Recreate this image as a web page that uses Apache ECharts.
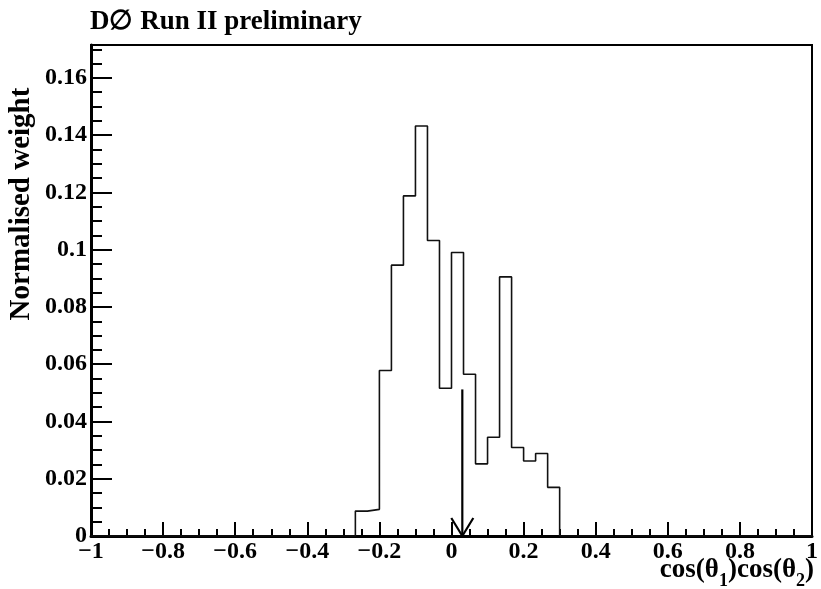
<!DOCTYPE html>
<html>
<head>
<meta charset="utf-8">
<script src="https://cdn.jsdelivr.net/npm/echarts@6/dist/echarts.min.js"></script>
<style>
  html, body { margin: 0; padding: 0; background: #fff; }
  #chart { width: 821px; height: 589px; }
</style>
</head>
<body>
<div id="chart"></div>
<script>
// ---- data ----
const titleText = 'D\u2205 Run II preliminary';
const yAxisTitle = 'Normalised weight';
// lower edges of the non-empty bins (bin width 1/30)
const binLow = [-0.26667, -0.23333, -0.2, -0.16667, -0.13333, -0.1, -0.06667, -0.03333,
                0, 0.03333, 0.06667, 0.1, 0.13333, 0.16667, 0.2, 0.23333, 0.26667];
const binHighEnd = 0.3;
const binValue = [0.0087, 0.0093, 0.0578, 0.0946, 0.1188, 0.1432, 0.1032, 0.0516,
                  0.0990, 0.0565, 0.0252, 0.0345, 0.0905, 0.0309, 0.0262, 0.0288, 0.0170];
const xRange = [-1, 1];
const yRange = [0, 0.1715];
const xMajor = 0.2;
const yMajor = 0.02;
const yMinor = 0.005;
// cut arrow: [x, top y, bottom y]
const arrowX = 0.03;
const arrowTop = 0.0512;
const arrowBottom = 0;

const FONT = '"Liberation Serif", "DejaVu Serif", serif';

// outline points of the histogram (step drawn by the library)
const histPoints = [[xRange[0], 0]];
for (let i = 0; i < binLow.length; i++) histPoints.push([binLow[i], binValue[i]]);
histPoints.push([binHighEnd, 0]);
histPoints.push([xRange[1], 0]);

function fmtNum(v) {
  const s = String(Number(v.toFixed(4)));
  return s.replace('-', '\u2212');
}

const chart = echarts.init(document.getElementById('chart'), null, { renderer: 'canvas' });
const option = {
  animation: false,
  backgroundColor: '#fff',
  grid: { left: 91, right: 5, top: 45, bottom: 53, show: true, borderColor: '#000', borderWidth: 2, backgroundColor: 'transparent' },
  xAxis: {
    type: 'value', min: xRange[0], max: xRange[1], interval: xMajor,
    axisLine: { onZero: false, lineStyle: { color: '#000', width: 3 } },
    axisTick: { inside: true, length: 14, lineStyle: { color: '#000', width: 2 } },
    minorTick: { show: true, splitNumber: 4, length: 7, lineStyle: { color: '#000', width: 2 } },
    splitLine: { show: false },
    axisLabel: { color: '#000', fontFamily: FONT, fontWeight: 'bold', fontSize: 24, margin: 4, formatter: fmtNum }
  },
  yAxis: [
    {
      type: 'value', min: yRange[0], max: yRange[1], interval: yMajor, position: 'left',
      axisLine: { onZero: false, lineStyle: { color: '#000', width: 3 } },
      axisTick: { inside: true, length: 21, lineStyle: { color: '#000', width: 2 } },
      splitLine: { show: false },
      axisLabel: {
        color: '#000', fontFamily: FONT, fontWeight: 'bold', fontSize: 24, margin: 4,
        formatter: function (v) {
          const k = v / yMajor;
          return Math.abs(k - Math.round(k)) < 1e-6 ? fmtNum(v) : '';
        }
      }
    },
    {
      type: 'value', min: yRange[0], max: yRange[1], interval: yMinor, position: 'left', offset: 0,
      axisLine: { show: false, onZero: false },
      axisTick: { inside: true, length: 11, lineStyle: { color: '#000', width: 2 } },
      splitLine: { show: false },
      axisLabel: { show: false }
    }
  ],
  series: [
    {
      type: 'line', step: 'end', data: histPoints, symbol: 'none',
      xAxisIndex: 0, yAxisIndex: 0,
      lineStyle: { color: '#111', width: 1.6 }, z: 3
    },
    {
      type: 'custom', xAxisIndex: 0, yAxisIndex: 0, z: 4,
      data: [[arrowX, arrowTop, arrowBottom]],
      encode: { x: 0, y: [1, 2] },
      renderItem: function (params, api) {
        const p1 = api.coord([api.value(0), api.value(1)]);
        const p2 = api.coord([api.value(0), api.value(2)]);
        const st = { stroke: '#000', lineWidth: 2.2, fill: null };
        return {
          type: 'group',
          children: [
            { type: 'line', shape: { x1: p1[0], y1: p1[1], x2: p2[0], y2: p2[1] }, style: st },
            { type: 'polyline', shape: { points: [[p2[0] - 11, p2[1] - 18], [p2[0], p2[1]], [p2[0] + 11, p2[1] - 18]] }, style: st }
          ]
        };
      }
    }
  ],
  graphic: [
    {
      type: 'text', left: 90, top: 9,
      style: { text: titleText, font: 'bold 27px ' + FONT, fill: '#000' }
    },
    {
      type: 'text', x: 22, y: 204, rotation: Math.PI / 2,
      style: { text: yAxisTitle, font: 'bold 29px ' + FONT, fill: '#000', align: 'center', verticalAlign: 'middle' }
    },
    {
      type: 'text', x: 814, y: 570,
      style: {
        text: '{m|cos(\u03b8}{s|1}{m|)cos(\u03b8}{s|2}{m|)}',
        align: 'right', verticalAlign: 'middle', fill: '#000',
        rich: {
          m: { fontFamily: FONT, fontWeight: 'bold', fontSize: 27, lineHeight: 40, fill: '#000' },
          s: { fontFamily: FONT, fontWeight: 'bold', fontSize: 18, lineHeight: 16, verticalAlign: 'bottom', fill: '#000' }
        }
      }
    }
  ]
};
chart.setOption(option);
</script>
</body>
</html>
